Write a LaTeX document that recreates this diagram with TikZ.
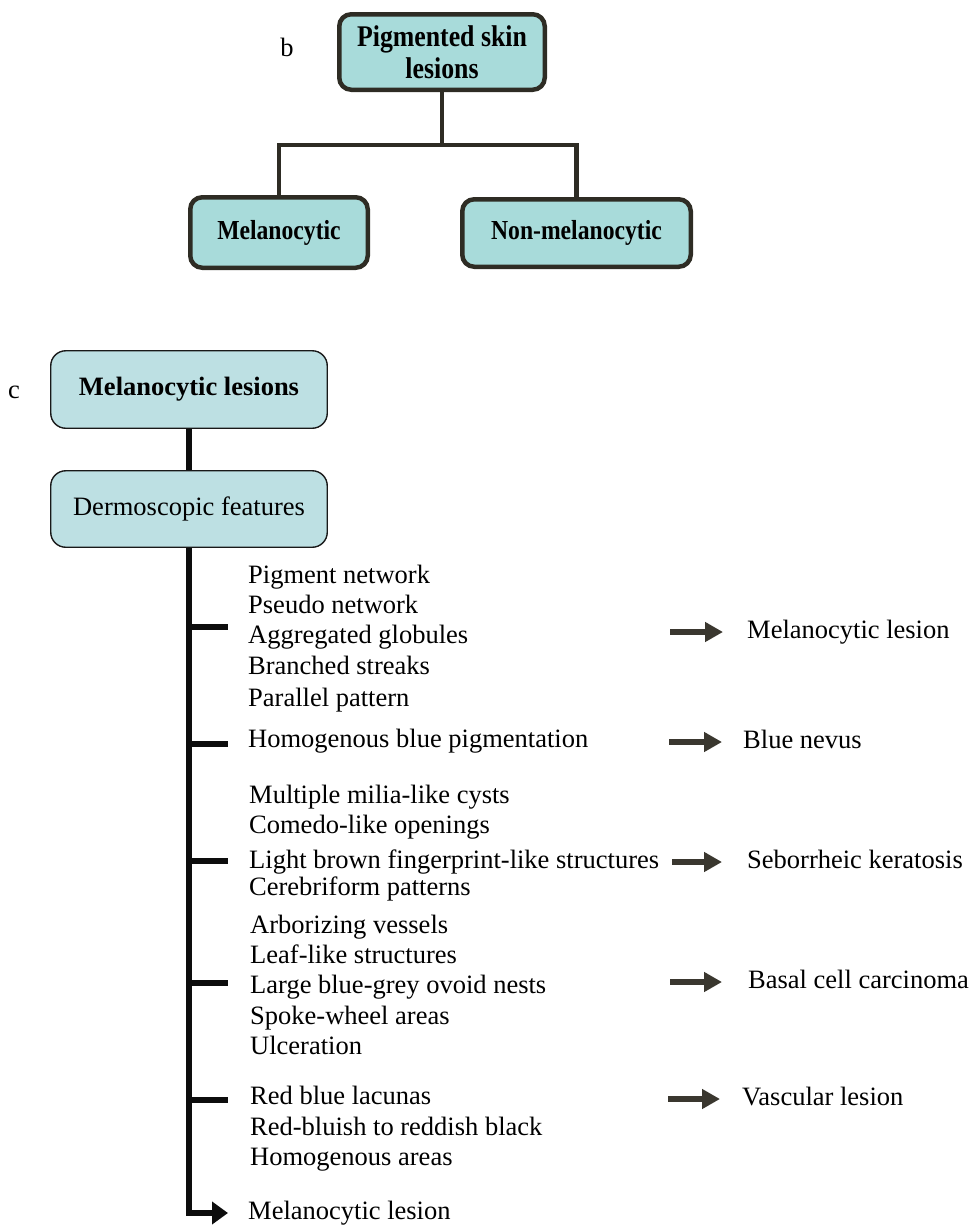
\documentclass[tikz,border=0pt]{standalone}
\usepackage{fontspec}
\setmainfont{Liberation Serif}
\newfontfamily\condfont{Liberation Serif}[FakeStretch=0.86]
\usetikzlibrary{arrows.meta,calc}
\definecolor{boxfill}{HTML}{A8DBDA}
\definecolor{boxline}{HTML}{2E2C24}
\definecolor{cfill}{HTML}{BDE0E3}
\definecolor{arrcol}{HTML}{3A372F}
\begin{document}
\begin{tikzpicture}[x=1pt,y=-1pt,
  every node/.style={font=\fontsize{26.5}{31}\selectfont, inner sep=0pt},
  bbox/.style={draw=boxline, line width=4.5pt, fill=boxfill, rounded corners=12pt,
    font=\condfont\bfseries\fontsize{27.5}{32}\selectfont, align=center},
  cbox/.style={draw=black!90, line width=1.4pt, fill=cfill, rounded corners=15pt,
    minimum width=276.5pt},
  tline/.style={draw=boxline, line width=4.5pt},
  trunk/.style={draw=black!95, line width=6.5pt},
  tick/.style={draw=black!95, line width=6pt},
  item/.style={anchor=west, text height=18pt, text depth=6pt},
  fat/.style={draw=arrcol, line width=6pt, -{Triangle[length=18pt,width=19pt]}}
]
\useasboundingbox (0,0) rectangle (973,1226);

% ---------- part b ----------
\node (lb) at (287,47) {b};
\node[bbox, minimum width=205.5pt, minimum height=75.5pt, font=\condfont\bfseries\fontsize{30}{32}\selectfont] (pig) at (442,52) {Pigmented skin\\lesions};
\node[bbox, minimum width=177.5pt, minimum height=70.5pt] (mel) at (279,232.5) {Melanocytic};
\node[bbox, minimum width=228.5pt, minimum height=67.5pt] (non) at (576.5,233) {Non-melanocytic};
\coordinate (j) at (442,145);
\draw[tline] (pig.south) -- (j);
\draw[tline, line join=miter] (mel.north) |- (j) -| (non.north);

% ---------- part c ----------
\node (lc) at (14,392) {c};
\node[cbox, minimum height=77.5pt, font=\bfseries\fontsize{26.5}{31}\selectfont] (ml) at (189,389.5) {Melanocytic lesions};
\node[cbox, minimum height=76.5pt] (df) at (189,509) {Dermoscopic features};
\draw[trunk] (ml.south) -- (df.north);

% feature lists
\node[item] (i1) at (248,577) {Pigment network};
\node[item] (i2) at (248,607) {Pseudo network};
\node[item] (i3) at (248,637) {Aggregated globules};
\node[item] (i4) at (248,668) {Branched streaks};
\node[item] (i5) at (248,700) {Parallel pattern};
\node[item] (i6) at (248,741) {Homogenous blue pigmentation};
\node[item] (i7) at (249,797) {Multiple milia-like cysts};
\node[item] (i8) at (249,827) {Comedo-like openings};
\node[item] (i9) at (249,862) {Light brown fingerprint-like structures};
\node[item] (i10) at (249,889) {Cerebriform patterns};
\node[item] (i11) at (250,927) {Arborizing vessels};
\node[item] (i12) at (250,957) {Leaf-like structures};
\node[item] (i13) at (250,987) {Large blue-grey ovoid nests};
\node[item] (i14) at (250,1018) {Spoke-wheel areas};
\node[item] (i15) at (250,1048) {Ulceration};
\node[item] (i16) at (250,1098) {Red blue lacunas};
\node[item] (i17) at (250,1129) {Red-bluish to reddish black};
\node[item] (i18) at (250,1159) {Homogenous areas};
\node[item] (bl) at (248,1213) {Melanocytic lesion};

% trunk with ticks and bottom arrow
\draw[trunk, -{Triangle[length=16pt,width=22pt]}] (df.south) |- ([xshift=-20pt]bl.west);
\coordinate (k1) at (228,627);
\coordinate (k2) at (228,744);
\coordinate (k3) at (228,861);
\coordinate (k4) at (228,983);
\coordinate (k5) at (228,1100);
\foreach \k in {k1,k2,k3,k4,k5} \draw[tick] (df.south |- \k) -- (\k);

% outcomes
\node[item] (r1) at (747,632) {Melanocytic lesion};
\node[item] (r2) at (743,742) {Blue nevus};
\node[item] (r3) at (747,862) {Seborrheic keratosis};
\node[item] (r4) at (748,982) {Basal cell carcinoma};
\node[item] (r5) at (742,1099) {Vascular lesion};
\draw[fat] ([xshift=-77pt]r1.west) -- ([xshift=-24pt]r1.west);
\draw[fat] ([xshift=-74pt]r2.west) -- ([xshift=-21pt]r2.west);
\draw[fat] ([xshift=-75pt]r3.west) -- ([xshift=-25pt]r3.west);
\draw[fat] ([xshift=-78pt]r4.west) -- ([xshift=-26pt]r4.west);
\draw[fat] ([xshift=-74pt]r5.west) -- ([xshift=-22pt]r5.west);
\end{tikzpicture}
\end{document}
